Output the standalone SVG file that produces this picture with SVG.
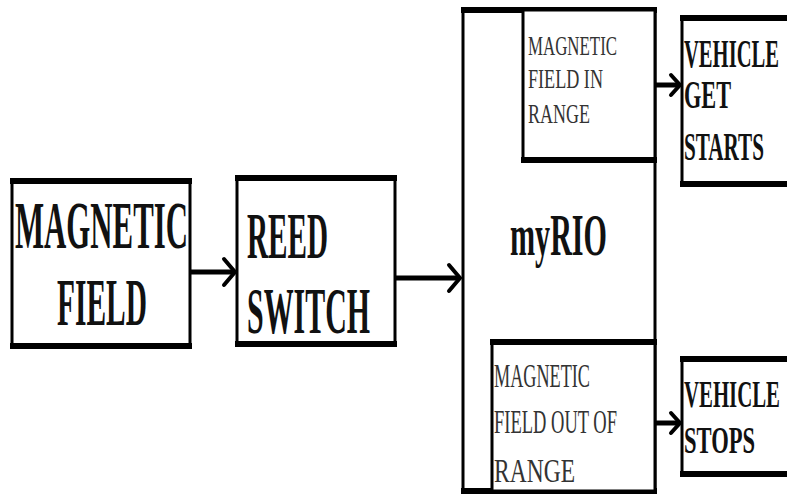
<svg xmlns="http://www.w3.org/2000/svg" width="787" height="495" viewBox="0 0 787 495">
<defs>
<style>
.box{fill:#fff;stroke:#000;stroke-width:3}
.thk{stroke:#000;stroke-width:6;fill:none}
.b{font-family:"Liberation Serif","Times New Roman",serif;font-weight:bold;fill:#111}
.r{font-family:"Liberation Serif","Times New Roman",serif;fill:#333}
.con{stroke:#000;stroke-width:5;fill:none}
.head{stroke:#000;stroke-width:4;fill:none;stroke-linecap:round;stroke-linejoin:miter}
</style>
</defs>
<rect width="787" height="495" fill="#fff"/>
<g id="myrio">
<rect class="box" x="463" y="10" width="192" height="481"/>
<line class="thk" x1="461" y1="10" x2="657" y2="10"/>
<line class="thk" x1="461" y1="491" x2="657" y2="491"/>
<text class="b" x="510" y="255" font-size="60" textLength="97" lengthAdjust="spacingAndGlyphs">myRIO</text>
</g>
<g id="in-range">
<rect class="box" x="523" y="10" width="132" height="150"/>
<line class="thk" x1="521" y1="160" x2="657" y2="160"/>
<text class="r" font-size="28" x="528" y="55" textLength="89" lengthAdjust="spacingAndGlyphs">MAGNETIC</text>
<text class="r" font-size="28" x="528" y="88" textLength="75" lengthAdjust="spacingAndGlyphs">FIELD IN</text>
<text class="r" font-size="28" x="528" y="123" textLength="62" lengthAdjust="spacingAndGlyphs">RANGE</text>
</g>
<g id="out-range">
<rect class="box" x="492" y="342" width="163" height="149"/>
<line class="thk" x1="490" y1="342" x2="657" y2="342"/>
<text class="r" font-size="34" x="494" y="387" textLength="96" lengthAdjust="spacingAndGlyphs">MAGNETIC</text>
<text class="r" font-size="34" x="494" y="433" textLength="123" lengthAdjust="spacingAndGlyphs">FIELD OUT OF</text>
<text class="r" font-size="34" x="494" y="482" textLength="81" lengthAdjust="spacingAndGlyphs">RANGE</text>
</g>
<g id="magnetic-field">
<rect class="box" x="12" y="181" width="178" height="166"/>
<line class="thk" x1="10" y1="181" x2="192" y2="181"/>
<line class="thk" x1="10" y1="346" x2="192" y2="346"/>
<text class="b" font-size="68" x="15" y="248" textLength="173" lengthAdjust="spacingAndGlyphs">MAGNETIC</text>
<text class="b" font-size="68" x="57" y="325" textLength="90" lengthAdjust="spacingAndGlyphs">FIELD</text>
</g>
<g id="reed-switch">
<rect class="box" x="237" y="178" width="158" height="167"/>
<line class="thk" x1="235" y1="178" x2="397" y2="178"/>
<line class="thk" x1="235" y1="344" x2="397" y2="344"/>
<text class="b" font-size="65" x="247" y="258" textLength="81" lengthAdjust="spacingAndGlyphs">REED</text>
<text class="b" font-size="65" x="247" y="333" textLength="123" lengthAdjust="spacingAndGlyphs">SWITCH</text>
</g>
<g id="vehicle-starts">
<path class="box" d="M790 17 H682 V185 H790"/>
<line class="thk" x1="680" y1="18" x2="790" y2="18"/>
<line class="thk" x1="680" y1="184" x2="790" y2="184"/>
<text class="b" font-size="41" x="684" y="67" textLength="95" lengthAdjust="spacingAndGlyphs">VEHICLE</text>
<text class="b" font-size="41" x="684" y="108" textLength="47" lengthAdjust="spacingAndGlyphs">GET</text>
<text class="b" font-size="41" x="684" y="160" textLength="80" lengthAdjust="spacingAndGlyphs">STARTS</text>
</g>
<g id="vehicle-stops">
<path class="box" d="M790 358 H682 V475 H790"/>
<line class="thk" x1="680" y1="359" x2="790" y2="359"/>
<line class="thk" x1="680" y1="474" x2="790" y2="474"/>
<text class="b" font-size="37" x="684" y="407" textLength="96" lengthAdjust="spacingAndGlyphs">VEHICLE</text>
<text class="b" font-size="37" x="684" y="453" textLength="71" lengthAdjust="spacingAndGlyphs">STOPS</text>
</g>
<g id="connectors">
<line class="con" x1="190" y1="272" x2="234" y2="272"/>
<path class="head" d="M224 259 L235 272 L224 285"/>
<line class="con" x1="395" y1="278" x2="459" y2="278"/>
<path class="head" d="M449 265 L460 278 L449 291"/>
<line class="con" x1="655" y1="85" x2="679" y2="85"/>
<path class="head" d="M671 75 L680 85 L671 95"/>
<line class="con" x1="655" y1="423" x2="679" y2="423"/>
<path class="head" d="M671 413 L680 423 L671 433"/>
</g>
</svg>
